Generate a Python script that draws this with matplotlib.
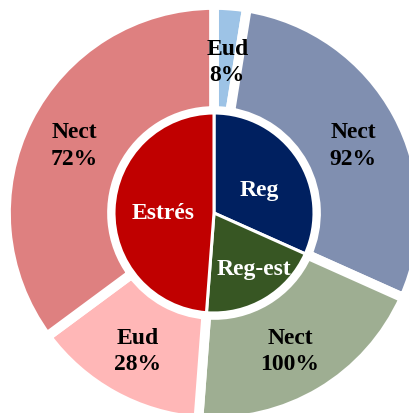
import matplotlib.pyplot as plt
import numpy as np

# Inner ring: groups (share of all cases, %)
groups = ["Reg", "Reg-est", "Estrés"]
group_share = [31.7, 19.5, 48.8]
group_colors = ["#002060", "#375623", "#C00000"]

# Outer ring: composition inside each group (% of that group)
sub_labels = ["Eud", "Nect", "Nect", "Eud", "Nect"]
sub_parent = [0, 0, 1, 2, 2]
sub_pct = [8, 92, 100, 28, 72]
sub_colors = ["#9DC3E6", "#808FB0", "#9EAE92", "#FFB7B7", "#DE8080"]

W, H = 409, 414
fig = plt.figure(figsize=(W / 100, H / 100), dpi=100)
ax = fig.add_axes([0, 0, 1, 1])

cx, cy = 214, H - 214
outer_vals = [group_share[p] * v / 100 for p, v in zip(sub_parent, sub_pct)]

ax.pie(outer_vals, colors=sub_colors, radius=208, center=(cx, cy),
       startangle=90, counterclock=False,
       wedgeprops=dict(width=106, edgecolor="white", linewidth=7))
ax.pie(group_share, colors=group_colors, radius=100, center=(cx, cy),
       startangle=90, counterclock=False,
       wedgeprops=dict(edgecolor="white", linewidth=2.2))

ax.set_xlim(0, W)
ax.set_ylim(0, H)
ax.set_aspect("equal")
ax.axis("off")

font = dict(family="Liberation Serif", fontweight="bold", fontsize=17)

# label anchors as (radius, angle in degrees) from the centre
outer_pos = [(152, 85), (155, 26), (157, -61), (157, -119), (155, 154)]
inner_pos = [(51, 28), (68, -54), (51, 179)]

for (r, a), lab, pct in zip(outer_pos, sub_labels, sub_pct):
    x = cx + r * np.cos(np.radians(a))
    y = cy + r * np.sin(np.radians(a))
    ax.text(x, y, f"{lab}\n{pct}%", ha="center", va="center",
            color="black", linespacing=1.35, **font)

for (r, a), lab in zip(inner_pos, groups):
    x = cx + r * np.cos(np.radians(a))
    y = cy + r * np.sin(np.radians(a))
    ax.text(x, y, lab, ha="center", va="center", color="white", **font)

fig.savefig("out.png", dpi=100, facecolor="white")
